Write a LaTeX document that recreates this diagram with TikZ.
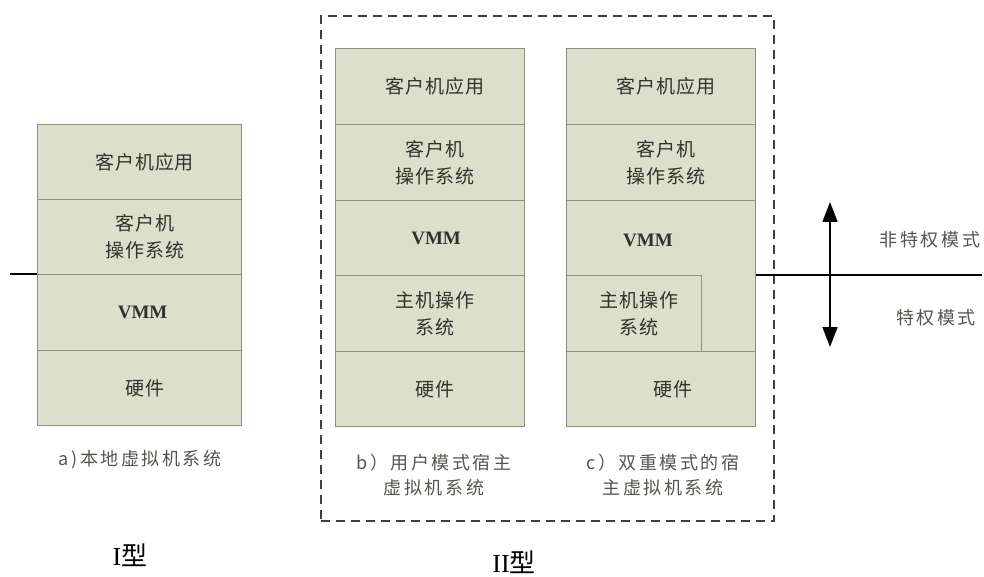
\documentclass[tikz,border=0pt]{standalone}
\usepackage{fontspec}
\newfontfamily\cjk{Noto Sans CJK SC}
\newfontfamily\cjkbox[LetterSpace=5]{Noto Sans CJK SC}
\newfontfamily\cjkcap[LetterSpace=14]{Noto Sans CJK SC}
\newfontfamily\lat{Liberation Serif}
\usetikzlibrary{arrows.meta}
\definecolor{layerfill}{RGB}{220,223,204}
\definecolor{layerline}{RGB}{140,145,128}
\definecolor{txt}{RGB}{50,50,45}
\definecolor{captxt}{RGB}{85,85,80}
\tikzset{
  layer/.style={draw=layerline, line width=1.2pt, fill=layerfill, anchor=north west,
    inner sep=0pt, align=center, text=txt, font=\cjkbox\fontsize{19}{27}\selectfont},
  vmm/.style={font=\lat\bfseries\fontsize{19}{22}\selectfont},
  caption/.style={align=center, text=captxt, font=\cjkcap\fontsize{18}{25}\selectfont},
  modetxt/.style={text=captxt, font=\cjkcap\fontsize{18}{20}\selectfont},
  typetxt/.style={text=black, font=\fontsize{26}{28}\selectfont},
  boundary/.style={line width=2pt, black},
}
\begin{document}
\begin{tikzpicture}[x=1pt,y=-1pt]
\useasboundingbox (0,0) rectangle (984,577);
% ---- a) ----
\node[layer, minimum width=204pt, minimum height=75pt] (a1) at (37,124) {\hspace*{10pt}客户机应用};
\node[layer, minimum width=204pt, minimum height=75pt] (a2) at (37,199) {\hspace*{10pt}客户机\\\hspace*{10pt}操作系统};
\node[layer, minimum width=204pt, minimum height=76pt, vmm] (a3) at (37,274) {\hspace*{6pt}VMM};
\node[layer, minimum width=204pt, minimum height=75pt] (a4) at (37,350) {\hspace*{10pt}硬件};
\node[caption] (acap) at (140,460) {a)\,本地虚拟机系统};
\coordinate (aL) at (10,274);
\draw[boundary] (aL) -- (a3.north west);
% ---- dashed frame ----
\node[draw=black!75, line width=2pt, dash pattern=on 9pt off 6pt, minimum width=453pt, minimum height=505pt, anchor=north west, inner sep=0pt] (frame) at (320,15) {};
% ---- b) ----
\node[layer, minimum width=189pt, minimum height=76pt] (b1) at (335,48) {\hspace*{10pt}客户机应用};
\node[layer, minimum width=189pt, minimum height=76pt] (b2) at (335,124) {\hspace*{10pt}客户机\\\hspace*{10pt}操作系统};
\node[layer, minimum width=189pt, minimum height=75pt, vmm] (b3) at (335,200) {\hspace*{12pt}VMM};
\node[layer, minimum width=189pt, minimum height=76pt] (b4) at (335,275) {\hspace*{10pt}主机操作\\\hspace*{10pt}系统};
\node[layer, minimum width=189pt, minimum height=75pt] (b5) at (335,351) {\hspace*{10pt}硬件};
\node[caption] (bcap) at (434,475) {b）用户模式宿主\\虚拟机系统};
% ---- c) ----
\node[layer, minimum width=189pt, minimum height=76pt] (c1) at (566,48) {\hspace*{10pt}客户机应用};
\node[layer, minimum width=189pt, minimum height=76pt] (c2) at (566,124) {\hspace*{10pt}客户机\\\hspace*{10pt}操作系统};
\node[layer, minimum width=189pt, minimum height=151pt] (c3) at (566,200) {};
\node[vmm, text=txt] (c3t) at (648,240) {VMM};
\node[layer, minimum width=135pt, minimum height=76pt] (c4) at (566,275) {\hspace*{10pt}主机操作\\\hspace*{10pt}系统};
\node[layer, minimum width=189pt, minimum height=75pt] (c5) at (566,351) {\hspace*{24pt}硬件};
\node[caption] (ccap) at (663,475) {c）双重模式的宿\\主虚拟机系统};
% ---- mode boundary ----
\coordinate (cR) at (982,275);
\draw[boundary] (c3.east |- c4.north) -- (cR);
\coordinate (arrTop) at (830,202);
\coordinate (arrBot) at (830,347);
\draw[line width=1.6pt, {Triangle[width=15pt,length=20pt]}-{Triangle[width=15pt,length=20pt]}] (arrTop) -- (arrBot);
\node[modetxt] (np) at (930,240) {非特权模式};
\node[modetxt] (pm) at (936,318) {特权模式};
% ---- type labels ----
\node[typetxt] (t1) at (130,555) {\lat I\cjk 型};
\node[typetxt] (t2) at (514,562) {\lat II\cjk 型};
\end{tikzpicture}
\end{document}
